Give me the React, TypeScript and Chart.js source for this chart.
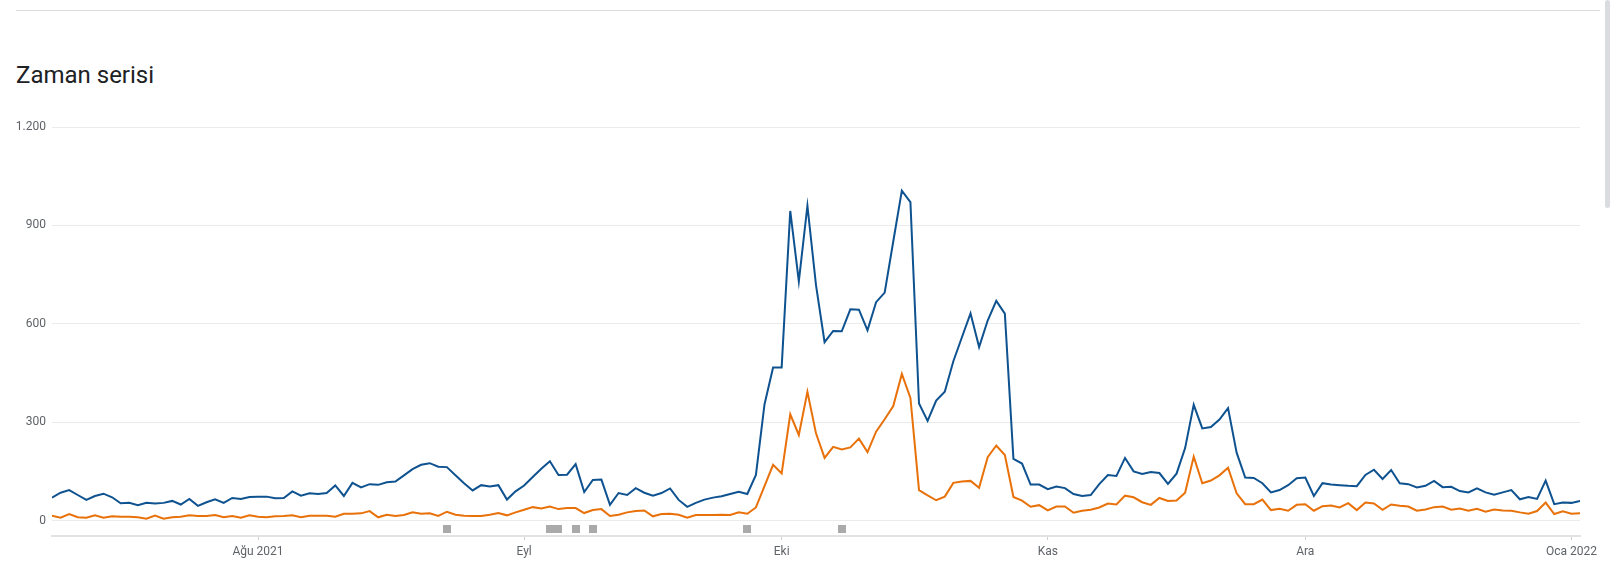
import { useEffect, useRef } from "react";
import { Chart, registerables } from "chart.js";

Chart.register(...registerables);

// ---- data ----
const START_DATE = "2021-07-08";
const DAY_COUNT = 179;

const categories: string[] = [];
{
  const d0 = new Date(START_DATE + "T00:00:00Z");
  for (let i = 0; i < DAY_COUNT; i++) {
    const d = new Date(d0.getTime() + i * 86400000);
    categories.push(d.toISOString().slice(0, 10));
  }
}

const seriesBlue = [
  70, 85, 93, 78, 63, 75, 82, 71, 53, 54, 47, 54, 52, 54, 60, 49, 66, 45, 56, 65,
  54, 69, 66, 72, 73, 73, 68, 69, 89, 76, 83, 81, 84, 107, 75, 115, 101, 111, 109, 117,
  119, 138, 157, 170, 175, 164, 163, 138, 114, 92, 108, 104, 108, 64, 89, 107, 133, 158, 181, 139,
  140, 172, 87, 124, 125, 48, 84, 78, 99, 85, 76, 84, 98, 63, 42, 54, 64, 70, 74, 81,
  88, 81, 139, 354, 467, 467, 944, 729, 960, 718, 544, 578, 577, 644, 643, 580, 666, 695, 851, 1006,
  971, 357, 304, 366, 393, 486, 559, 632, 529, 610, 670, 631, 188, 174, 110, 110, 96, 104, 99, 81,
  75, 78, 111, 139, 136, 191, 150, 142, 148, 145, 112, 143, 221, 353, 281, 285, 308, 343, 207, 131,
  130, 114, 86, 93, 108, 129, 131, 75, 114, 110, 108, 106, 105, 139, 155, 127, 154, 114, 111, 101,
  106, 121, 102, 103, 90, 86, 98, 86, 79, 86, 93, 65, 72, 66, 122, 50, 55, 54, 60,
];

const seriesOrange = [
  15, 9, 20, 10, 9, 16, 9, 13, 12, 12, 10, 6, 15, 6, 10, 12, 16, 14, 14, 17,
  10, 14, 9, 16, 12, 10, 13, 14, 16, 10, 15, 15, 15, 12, 21, 21, 22, 29, 10, 18,
  14, 17, 25, 21, 22, 14, 27, 18, 15, 14, 14, 18, 23, 16, 25, 33, 41, 37, 43, 35,
  38, 38, 23, 32, 35, 14, 18, 25, 29, 31, 13, 20, 21, 18, 9, 17, 17, 17, 18, 17,
  25, 21, 40, 105, 170, 144, 324, 261, 393, 266, 191, 225, 217, 223, 250, 209, 271, 309, 349, 447,
  374, 93, 77, 62, 73, 115, 119, 121, 100, 193, 229, 200, 72, 61, 42, 47, 31, 43, 43, 24,
  30, 33, 40, 52, 49, 76, 71, 56, 48, 69, 60, 61, 85, 195, 114, 122, 138, 161, 83, 50,
  50, 64, 32, 36, 30, 48, 50, 30, 44, 46, 40, 53, 32, 55, 52, 33, 49, 45, 43, 30,
  34, 41, 43, 33, 37, 30, 36, 27, 34, 31, 30, 25, 21, 29, 55, 20, 28, 21, 22,
];

const monthTickIndex = [24, 55, 85, 116, 146, 177];
const monthTickLabels = ["Ağu 2021", "Eyl", "Eki", "Kas", "Ara", "Oca 2022"];

const yTicks = [0, 300, 600, 900, 1200];

// days carrying an annotation marker
const annotationIndex = [46, 58, 59, 61, 63, 81, 92];

// ---- styles ----
const BLUE = "#0e5290";
const ORANGE = "#e8710a";
const FONT = "Roboto, 'Noto Sans', sans-serif";

function formatTr(v: number): string {
  const s = Math.round(v).toString();
  return s.replace(/\B(?=(\d{3})+(?!\d))/g, ".");
}

const annotationPlugin = {
  id: "annotationMarks",
  afterDatasetsDraw(chart: any) {
    const { ctx, scales } = chart;
    const x = scales.x;
    const y = scales.y;
    const y0 = y.getPixelForValue(0);
    ctx.save();
    ctx.fillStyle = "#aaaaaa";
    annotationIndex.forEach((i) => {
      const px = x.getPixelForValue(i);
      ctx.fillRect(Math.round(px - 4), Math.round(y0 + 4), 8, 8);
    });
    ctx.restore();
  },
};

export default function App() {
  const canvasRef = useRef<HTMLCanvasElement | null>(null);

  useEffect(() => {
    if (!canvasRef.current) return;
    const chart = new Chart(canvasRef.current, {
      type: "line",
      data: {
        labels: categories,
        datasets: [
          {
            label: "Seri 1",
            data: seriesBlue.map((v, i) => ({ x: i, y: v })),
            borderColor: BLUE,
            backgroundColor: BLUE,
            borderWidth: 2,
            pointRadius: 0,
            tension: 0,
          },
          {
            label: "Seri 2",
            data: seriesOrange.map((v, i) => ({ x: i, y: v })),
            borderColor: ORANGE,
            backgroundColor: ORANGE,
            borderWidth: 2,
            pointRadius: 0,
            tension: 0,
          },
        ],
      },
      options: {
        animation: false,
        responsive: false,
        devicePixelRatio: 1,
        layout: { padding: { top: 127, right: 36, left: 0, bottom: 0 } },
        interaction: { mode: "index", intersect: false },
        plugins: {
          legend: { display: false },
          title: { display: false },
          tooltip: {
            callbacks: {
              title: (items: any[]) => (items.length ? categories[items[0].parsed.x] : ""),
            },
          },
        },
        scales: {
          x: {
            type: "linear",
            min: 0,
            max: DAY_COUNT - 1,
            afterBuildTicks: (scale: any) => {
              scale.ticks = monthTickIndex.map((v) => ({ value: v }));
            },
            afterFit: (scale: any) => {
              scale.height = 37;
            },
            ticks: {
              autoSkip: false,
              maxRotation: 0,
              padding: 5,
              color: "#5f6368",
              font: { family: FONT, size: 12 },
              callback: (_v: any, idx: number) => monthTickLabels[idx],
            },
            grid: {
              display: true,
              drawOnChartArea: false,
              drawTicks: true,
              tickLength: 4,
              color: "#cfcfcf",
            },
            border: { display: true, color: "#e0e2e6", width: 2 },
          },
          y: {
            min: -47,
            max: 1200,
            afterBuildTicks: (scale: any) => {
              scale.ticks = yTicks.map((v) => ({ value: v }));
            },
            afterFit: (scale: any) => {
              scale.width = 52;
            },
            ticks: {
              padding: 6,
              color: "#5f6368",
              font: { family: FONT, size: 12 },
              callback: (v: any) => formatTr(Number(v)),
            },
            grid: {
              color: "#ebebeb",
              drawTicks: false,
              lineWidth: 1,
            },
            border: { display: false },
          },
        },
      },
      plugins: [annotationPlugin],
    } as any);
    return () => chart.destroy();
  }, []);

  return (
    <div style={{ position: "absolute", left: 0, top: 0, width: 1616, height: 573, background: "#fff", overflow: "hidden" }}>
      <div style={{ position: "absolute", left: 16, top: 10, width: 1584, height: 1, background: "#dadce0" }} />
      <div
        style={{
          position: "absolute",
          left: 16,
          top: 63,
          fontFamily: FONT,
          fontSize: 24,
          lineHeight: "24px",
          color: "#202124",
          whiteSpace: "nowrap",
        }}
      >
        Zaman serisi
      </div>
      <div style={{ position: "absolute", left: 1605, top: 0, width: 5, height: 208, background: "#dadce0", borderRadius: 3 }} />
      <canvas ref={canvasRef} width={1616} height={573} style={{ position: "absolute", left: 0, top: 0, width: 1616, height: 573 }} />
    </div>
  );
}
